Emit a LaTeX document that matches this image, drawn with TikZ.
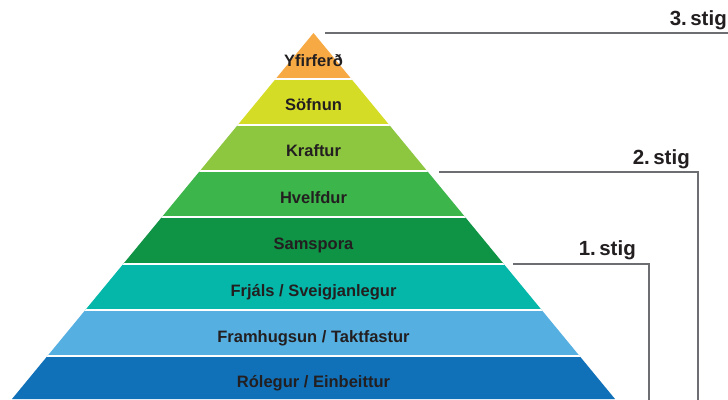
\documentclass[tikz,border=0pt]{standalone}
\usepackage{fontspec}
\setmainfont{Liberation Sans}
\definecolor{cOrange}{HTML}{F7A944}
\definecolor{cYellow}{HTML}{D5DC26}
\definecolor{cLime}{HTML}{8DC63F}
\definecolor{cGreen}{HTML}{3CB54A}
\definecolor{cDark}{HTML}{0F9345}
\definecolor{cTeal}{HTML}{04B7A9}
\definecolor{cSky}{HTML}{55AFE1}
\definecolor{cBlue}{HTML}{1071B9}
\definecolor{cText}{HTML}{231F20}
\definecolor{cLine}{HTML}{6D6E71}
\tikzset{
  bandtext/.style={anchor=base, text=cText, font=\bfseries\fontsize{16.5}{18}\selectfont, inner sep=0pt},
  stiglabel/.style={anchor=base east, text=cText, font=\bfseries\fontsize{20.5}{22}\selectfont, inner sep=0pt},
  stigline/.style={draw=cLine, line width=2pt},
  gap/.style={draw=white, line width=2pt}
}
\begin{document}
\begin{tikzpicture}[x=1pt,y=-1pt]
\useasboundingbox (0,0) rectangle (728,399);
\fill[white] (0,0) rectangle (728,399);
\begin{scope}
  \clip (313.5,33) -- (12,399) -- (615,399) -- cycle;
  \fill[cOrange] (0,30) rectangle (728,78.5);
  \fill[cYellow] (0,78.5) rectangle (728,124.5);
  \fill[cLime]   (0,124.5) rectangle (728,171);
  \fill[cGreen]  (0,171) rectangle (728,217);
  \fill[cDark]   (0,217) rectangle (728,263.5);
  \fill[cTeal]   (0,263.5) rectangle (728,309.5);
  \fill[cSky]    (0,309.5) rectangle (728,356);
  \fill[cBlue]   (0,356) rectangle (728,400);
  \foreach \yy in {78.5,124.5,171,217,263.5,309.5,356}
    \draw[gap] (0,\yy) -- (728,\yy);
\end{scope}
\node[bandtext] (t1) at (313.5,66) {Yfirferð};
\node[bandtext] (t2) at (313.5,110) {Söfnun};
\node[bandtext] (t3) at (313.5,156.5) {Kraftur};
\node[bandtext] (t4) at (313.5,203) {Hvelfdur};
\node[bandtext] (t5) at (313.5,249.5) {Samspora};
\node[bandtext] (t6) at (313.5,296) {Frjáls / Sveigjanlegur};
\node[bandtext] (t7) at (313.5,342) {Framhugsun / Taktfastur};
\node[bandtext] (t8) at (313.5,387) {Rólegur / Einbeittur};
\node[stiglabel] (s3) at (727,25) {3.\hspace{0.17em}stig};
\node[stiglabel] (s2) at (690,164.5) {2.\hspace{0.17em}stig};
\node[stiglabel] (s1) at (636,255.5) {1.\hspace{0.17em}stig};
\coordinate (a3) at (325,33);
\coordinate (b3) at (728,33);
\coordinate (a2) at (439,171.5);
\coordinate (c2) at (698,171.5);
\coordinate (b2) at (698,400);
\coordinate (a1) at (513,264);
\coordinate (c1) at (649,264);
\coordinate (b1) at (649,400);
\draw[stigline] (a3) -- (b3);
\draw[stigline] (a2) -- (c2) -- (b2);
\draw[stigline] (a1) -- (c1) -- (b1);
\end{tikzpicture}
\end{document}
